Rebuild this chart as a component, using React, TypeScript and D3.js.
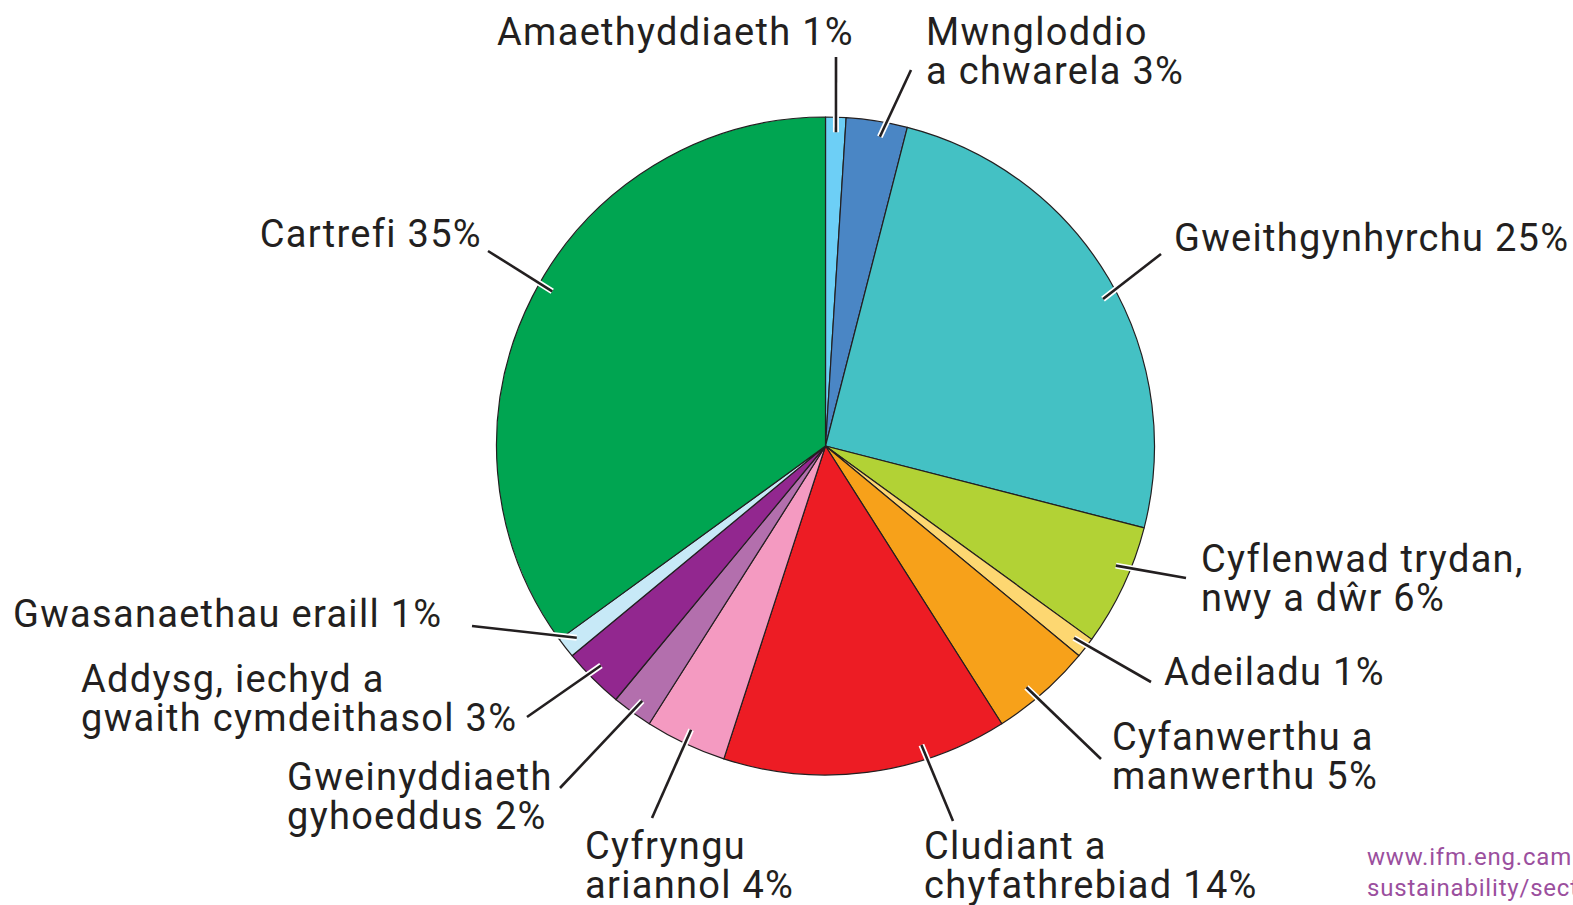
import React from "react";
import * as d3 from "d3";

// ---- data ----
const categories = [
  "Amaethyddiaeth",
  "Mwngloddio a chwarela",
  "Gweithgynhyrchu",
  "Cyflenwad trydan, nwy a dŵr",
  "Adeiladu",
  "Cyfanwerthu a manwerthu",
  "Cludiant a chyfathrebiad",
  "Cyfryngu ariannol",
  "Gweinyddiaeth gyhoeddus",
  "Addysg, iechyd a gwaith cymdeithasol",
  "Gwasanaethau eraill",
  "Cartrefi",
];
const values = [1, 3, 25, 6, 1, 5, 14, 4, 2, 3, 1, 35];
const labelLines = [
  ["Amaethyddiaeth 1%"],
  ["Mwngloddio", "a chwarela 3%"],
  ["Gweithgynhyrchu 25%"],
  ["Cyflenwad trydan,", "nwy a dŵr 6%"],
  ["Adeiladu 1%"],
  ["Cyfanwerthu a", "manwerthu 5%"],
  ["Cludiant a", "chyfathrebiad 14%"],
  ["Cyfryngu", "ariannol 4%"],
  ["Gweinyddiaeth", "gyhoeddus 2%"],
  ["Addysg, iechyd a", "gwaith cymdeithasol 3%"],
  ["Gwasanaethau eraill 1%"],
  ["Cartrefi 35%"],
];
const sourceLines = ["www.ifm.eng.cam.ac.uk/", "sustainability/sectors/"];

// ---- styles / layout ----
const colors = [
  "#6dcff6", "#4a86c5", "#44c1c4", "#b2d235", "#fdd771", "#f7a11a",
  "#ed1c24", "#f49ac1", "#b36fad", "#92278f", "#c7e9f7", "#00a551",
];
const W = 1573, H = 905;
const CX = 825.5, CY = 446, R = 329;
const INK = "#231f20";
const FONT = 38;
const LS = 1.3;
const LH = 39;
// per label: text x, first baseline, anchor, leader outer point, position of leader inside slice (0..1)
const layout = [
  { x: 854, y: 45, anchor: "end", ox: 836, oy: 57, f: 0.53 },
  { x: 926, y: 45, anchor: "start", ox: 911, oy: 70, f: 0.59 },
  { x: 1174, y: 251, anchor: "start", ox: 1161, oy: 254, f: 0.53 },
  { x: 1201, y: 572, anchor: "start", ox: 1186, oy: 578, f: 0.37 },
  { x: 1164, y: 685, anchor: "start", ox: 1151, oy: 682, f: 0.47 },
  { x: 1112, y: 750, anchor: "start", ox: 1101, oy: 759, f: 0.59 },
  { x: 924, y: 859, anchor: "start", ox: 953, oy: 821, f: 0.29 },
  { x: 585, y: 859, anchor: "start", ox: 652, oy: 818, f: 0.51 },
  { x: 287, y: 790, anchor: "start", ox: 560, oy: 788, f: 0.46 },
  { x: 81, y: 692, anchor: "start", ox: 527, oy: 717, f: 0.56 },
  { x: 13, y: 627, anchor: "start", ox: 472, oy: 626, f: 0.55 },
  { x: 482, y: 247, anchor: "end", ox: 488, oy: 251, f: 0.52 },
];

export default function App() {
  const pie = d3.pie<number>().sort(null).value((d) => d);
  const arcs = pie(values);
  const arc = d3.arc<d3.PieArcDatum<number>>().innerRadius(0).outerRadius(R);
  const innerR = R - 15;

  return (
    <svg
      width={W}
      height={H}
      style={{ position: "absolute", left: 0, top: 0, background: "#fff" }}
      fontFamily="Roboto, 'DejaVu Sans', sans-serif"
    >
      <g transform={`translate(${CX},${CY})`}>
        {arcs.map((a, i) => (
          <path
            key={categories[i]}
            d={arc(a) || ""}
            fill={colors[i]}
            stroke={INK}
            strokeWidth={1.2}
            strokeLinejoin="round"
          />
        ))}
      </g>
      {arcs.map((a, i) => {
        const L = layout[i];
        const ang = a.startAngle + (a.endAngle - a.startAngle) * L.f;
        const ix = CX + innerR * Math.sin(ang);
        const iy = CY - innerR * Math.cos(ang);
        return (
          <g key={"lead" + i}>
            <line x1={L.ox} y1={L.oy} x2={ix} y2={iy} stroke="#fff" strokeWidth={6} />
            <line x1={L.ox} y1={L.oy} x2={ix} y2={iy} stroke={INK} strokeWidth={2.6} />
          </g>
        );
      })}
      {labelLines.map((lines, i) => {
        const L = layout[i];
        return (
          <text
            key={"lab" + i}
            x={L.x}
            y={L.y}
            textAnchor={L.anchor}
            fontSize={FONT}
            letterSpacing={LS}
            fill={INK}
          >
            {lines.map((t, j) => (
              <tspan key={j} x={L.x} dy={j === 0 ? 0 : LH}>
                {t}
              </tspan>
            ))}
          </text>
        );
      })}
      <text x={1367} y={865} fontSize={24} letterSpacing={0.8} fill="#9b4f9e">
        {sourceLines.map((t, j) => (
          <tspan key={j} x={1367} dy={j === 0 ? 0 : 31}>
            {t}
          </tspan>
        ))}
      </text>
    </svg>
  );
}
